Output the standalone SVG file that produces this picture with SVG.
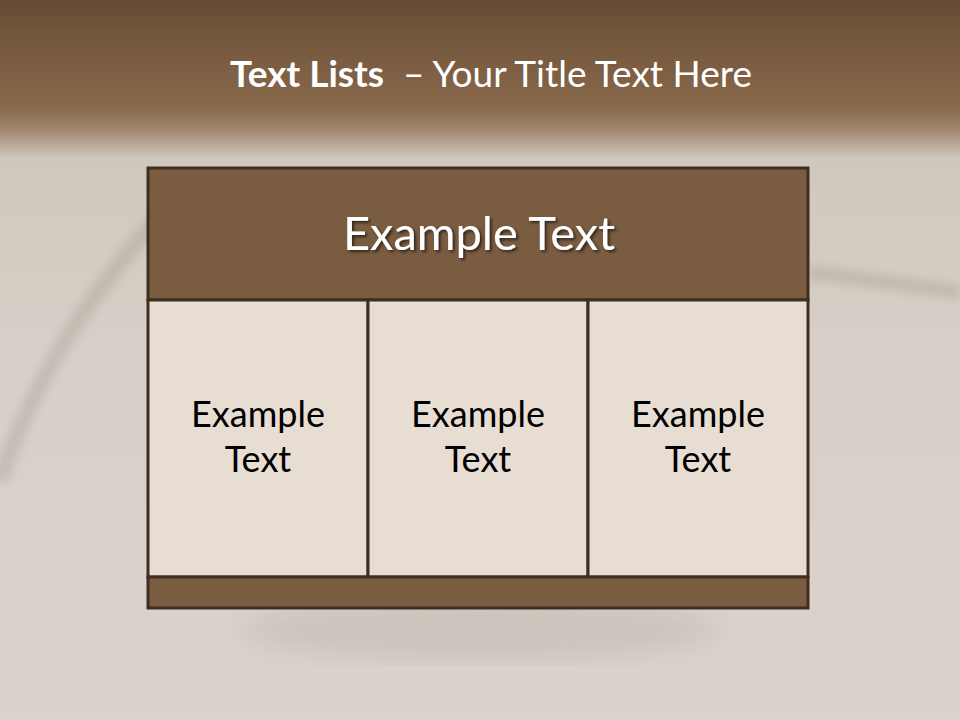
<svg xmlns="http://www.w3.org/2000/svg" width="960" height="720" viewBox="0 0 960 720">
  <defs>
    <linearGradient id="bg" x1="0" y1="0" x2="0" y2="1">
      <stop offset="0" stop-color="#664c35"/>
      <stop offset="0.15" stop-color="#8a694b"/>
      <stop offset="0.18" stop-color="#a08670"/>
      <stop offset="0.22" stop-color="#d0c7be"/>
      <stop offset="0.5" stop-color="#d8d0c8"/>
      <stop offset="1" stop-color="#dbd3cb"/>
    </linearGradient>
    <filter id="ts" x="-10%" y="-30%" width="130%" height="160%">
      <feDropShadow dx="2" dy="2" stdDeviation="1.5" flood-color="#000" flood-opacity="0.6"/>
    </filter>
    <filter id="blur"><feGaussianBlur stdDeviation="5"/></filter>
    <filter id="blur2"><feGaussianBlur stdDeviation="14"/></filter>
  </defs>
  <style>
    .frame { stroke: #3e2e20; stroke-width: 3; }
    .dark { fill: #7a5c41; }
    .light { fill: #e8ddd3; }
    .big { font-family: Lato, "Open Sans", sans-serif; font-size: 47px; fill: #ffffff; text-anchor: middle; }
    .cell { font-family: Lato, "Open Sans", sans-serif; font-size: 36px; fill: #000000; text-anchor: middle; }
    .title { font-family: Lato, "Open Sans", sans-serif; font-size: 37px; fill: #ffffff; }
  </style>
  <rect x="0" y="0" width="960" height="720" fill="url(#bg)"/>
  <g opacity="0.25" filter="url(#blur)">
    <path d="M 0 480 Q 50 330 175 200" stroke="#8a8078" stroke-width="16" fill="none"/>
    <path d="M 808 272 L 960 292" stroke="#8a8078" stroke-width="14" fill="none"/>
  </g>
  <ellipse cx="480" cy="630" rx="240" ry="30" fill="#bdb5ad" opacity="0.5" filter="url(#blur2)"/>
  <text x="491" y="87" text-anchor="middle" class="title" xml:space="preserve"><tspan font-weight="bold">Text Lists</tspan>  – Your Title Text Here</text>
  <g id="header">
    <rect x="148" y="168" width="660" height="132" class="dark frame"/>
    <text x="479" y="250" class="big" filter="url(#ts)">Example Text</text>
  </g>
  <g id="cell1">
    <rect x="148" y="300" width="220" height="277" class="light frame"/>
    <text x="258" y="427" class="cell">Example</text>
    <text x="258" y="472" class="cell">Text</text>
  </g>
  <g id="cell2">
    <rect x="368" y="300" width="220" height="277" class="light frame"/>
    <text x="478" y="427" class="cell">Example</text>
    <text x="478" y="472" class="cell">Text</text>
  </g>
  <g id="cell3">
    <rect x="588" y="300" width="220" height="277" class="light frame"/>
    <text x="698" y="427" class="cell">Example</text>
    <text x="698" y="472" class="cell">Text</text>
  </g>
  <g id="footer">
    <rect x="148" y="577" width="660" height="31" class="dark frame"/>
  </g>
  <g id="connectors"/>
</svg>
